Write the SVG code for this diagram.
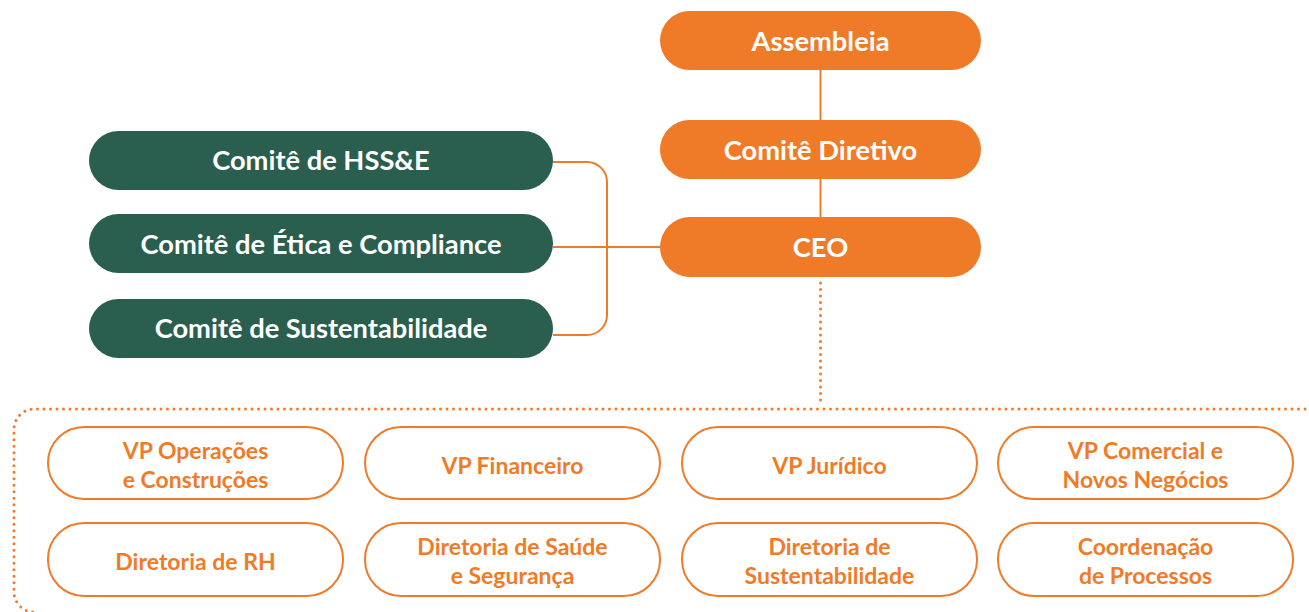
<svg xmlns="http://www.w3.org/2000/svg" width="1309" height="612" viewBox="0 0 1309 612">
<style>
.o{fill:#EF7B29}
.g{fill:#2A5E4F}
.w{fill:#fff;stroke:#EF7B29;stroke-width:2}
.tw{fill:#fff;font-family:Lato,"Open Sans",sans-serif;font-weight:700;font-size:27.3px;text-anchor:middle}
.to{fill:#EF7B29;font-family:Lato,"Open Sans",sans-serif;font-weight:700;font-size:23px;text-anchor:middle}
.ln{fill:none;stroke:#EF7B29;stroke-width:2}
.dt{fill:none;stroke:#EF7B29;stroke-width:3;stroke-linecap:round;stroke-dasharray:0 6.5}
</style>
<rect width="1309" height="612" fill="#fff"/>
<g id="connectors">
<line class="ln" x1="820.5" y1="70" x2="820.5" y2="120"/>
<line class="ln" x1="820.5" y1="179" x2="820.5" y2="217"/>
<path class="ln" d="M553 162 H587 A20 20 0 0 1 607 182 V315 A20 20 0 0 1 587 335 H553"/>
<line class="ln" x1="553" y1="247" x2="660" y2="247"/>
<path class="dt" d="M820.5 283 V406"/>
<path class="dt" d="M1305 409 H34 A20 20 0 0 0 14 429 V592 A20 20 0 0 0 34 612"/>
</g>
<g id="assembleia"><rect class="o" x="660" y="11" width="321" height="59" rx="29.5"/><text class="tw" x="820.5" y="51">Assembleia</text></g>
<g id="comite-diretivo"><rect class="o" x="660" y="120" width="321" height="59" rx="29.5"/><text class="tw" x="820.5" y="160">Comitê Diretivo</text></g>
<g id="ceo"><rect class="o" x="660" y="217" width="321" height="60" rx="30"/><text class="tw" x="820.5" y="257">CEO</text></g>
<g id="comite-hsse"><rect class="g" x="89" y="131" width="464" height="59" rx="29.5"/><text class="tw" x="321" y="170">Comitê de HSS&amp;E</text></g>
<g id="comite-etica"><rect class="g" x="89" y="214" width="464" height="59" rx="29.5"/><text class="tw" x="321" y="254">Comitê de Ética e Compliance</text></g>
<g id="comite-sust"><rect class="g" x="89" y="299" width="464" height="59" rx="29.5"/><text class="tw" x="321" y="338">Comitê de Sustentabilidade</text></g>
<g id="vp-operacoes"><rect class="w" x="48" y="427" width="295" height="72" rx="36"/><text class="to" x="195.5" y="459">VP Operações</text><text class="to" x="195.5" y="488">e Construções</text></g>
<g id="vp-financeiro"><rect class="w" x="365" y="427" width="295" height="72" rx="36"/><text class="to" x="512.5" y="474">VP Financeiro</text></g>
<g id="vp-juridico"><rect class="w" x="682" y="427" width="295" height="72" rx="36"/><text class="to" x="829.5" y="474">VP Jurídico</text></g>
<g id="vp-comercial"><rect class="w" x="998" y="427" width="295" height="72" rx="36"/><text class="to" x="1145.5" y="459">VP Comercial e</text><text class="to" x="1145.5" y="488">Novos Negócios</text></g>
<g id="dir-rh"><rect class="w" x="48" y="523" width="295" height="73" rx="36"/><text class="to" x="195.5" y="570">Diretoria de RH</text></g>
<g id="dir-saude"><rect class="w" x="365" y="523" width="295" height="73" rx="36"/><text class="to" x="512.5" y="555">Diretoria de Saúde</text><text class="to" x="512.5" y="584">e Segurança</text></g>
<g id="dir-sust"><rect class="w" x="682" y="523" width="295" height="73" rx="36"/><text class="to" x="829.5" y="555">Diretoria de</text><text class="to" x="829.5" y="584">Sustentabilidade</text></g>
<g id="coord-processos"><rect class="w" x="998" y="523" width="295" height="73" rx="36"/><text class="to" x="1145.5" y="555">Coordenação</text><text class="to" x="1145.5" y="584">de Processos</text></g>
</svg>
